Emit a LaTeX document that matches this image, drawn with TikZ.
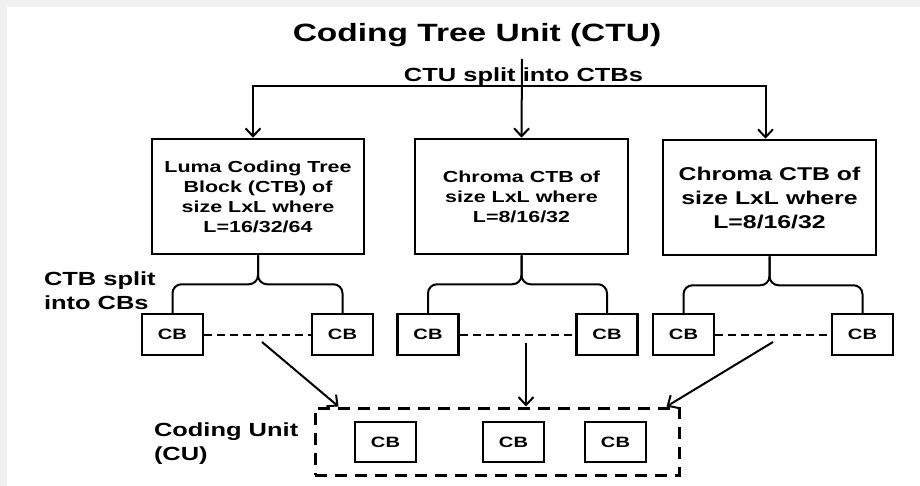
\documentclass[tikz,border=0pt]{standalone}
\usepackage{fontspec}
\setmainfont[FakeStretch=1.34]{Liberation Sans}
\usetikzlibrary{arrows.meta}

\begin{document}
\begin{tikzpicture}[x=1pt,y=-1pt,line width=2pt,>={Straight Barb[length=8pt,width=15pt]}]

% Stili per blocchi ed etichette
\tikzset{
  blocco/.style={draw, line width=2.5pt, minimum width=212pt, minimum height=115pt, inner sep=0pt, align=center},
  cb/.style={draw, line width=2.5pt, minimum width=61pt, minimum height=41pt, inner sep=0pt, font=\bfseries\fontsize{15}{18}\selectfont},
  etichetta/.style={anchor=north west, inner sep=0pt, align=left, font=\bfseries\fontsize{19}{24}\selectfont},
  tratteggio/.style={dash pattern=on 8pt off 5pt}
}

% Sfondo
\useasboundingbox (0,0) rectangle (920,486);
\fill[white] (0,0) rectangle (920,486);
\fill[gray!12] (0,0) rectangle (920,7);
\fill[gray!12] (0,0) rectangle (7,486);

% --- Parte superiore: CTU ---
\node[anchor=base, inner sep=0pt, font=\bfseries\fontsize{25}{30}\selectfont] (titolo) at (477,42) {Coding Tree Unit (CTU)};
\node[anchor=base, inner sep=0pt, font=\bfseries\fontsize{19}{22}\selectfont] (split) at (523.5,82) {CTU split into CTBs};

% Blocchi CTB
\node[blocco, font=\bfseries\fontsize{16}{20}\selectfont] (luma) at (258,196.5) {Luma Coding Tree\\Block (CTB) of\\size LxL where\\L=16/32/64};
\node[blocco, minimum width=213pt, font=\bfseries\fontsize{16}{20}\selectfont] (chromaA) at (521.5,196.5) {Chroma CTB of\\size LxL where\\L=8/16/32};
\node[blocco, minimum width=213pt, font=\bfseries\fontsize{18.5}{24}\selectfont] (chromaB) at (769.5,197.5) {Chroma CTB of\\size LxL where\\L=8/16/32};

% Frecce dalla CTU
\coordinate (ctu) at (522,59);
\coordinate (ramo) at (522,86);
\draw[->] (ctu) -- (chromaA.north);
\draw[->] (ramo) -| ([xshift=-5pt]luma.north);
\draw[->] (ramo) -| ([xshift=-4pt]chromaB.north);

% --- Parte centrale: CB ---
\node[etichetta] (ctbsplit) at (43,271) {CTB split\\into CBs};

\node[cb] (cb1a) at (172.5,334.5) {CB};
\node[cb] (cb1b) at (342.5,334.5) {CB};
\node[cb] (cb2a) at (428,334.5) {CB};
\node[cb] (cb2b) at (607,334.5) {CB};
\node[cb] (cb3a) at (683.5,334.5) {CB};
\node[cb] (cb3b) at (862.5,334.5) {CB};

% Graffe e tratteggi
\foreach \b/\l/\r in {luma/cb1a/cb1b, chromaA/cb2a/cb2b, chromaB/cb3a/cb3b} {
  \draw[rounded corners=9pt] (\l.north) |- ([yshift=-29pt]\b.south) -- (\b.south);
  \draw[rounded corners=9pt] (\r.north) |- ([yshift=-29pt]\b.south) -- (\b.south);
  \draw[tratteggio] (\l) -- (\r);
}

% --- Parte inferiore: CU ---
\node[etichetta] (cutesto) at (153,422) {Coding Unit\\(CU)};
\node[draw, line width=3pt, dash pattern=on 12pt off 8pt, minimum width=364pt, minimum height=67pt] (cu) at (497,441.5) {};

\node[cb, minimum height=40pt] (cu1) at (385.5,442) {CB};
\node[cb, minimum height=40pt] (cu2) at (513.5,442) {CB};
\node[cb, minimum height=40pt] (cu3) at (615.5,442) {CB};

% Frecce verso la CU
\coordinate (p1) at (262,342);
\coordinate (p2) at (526,343);
\coordinate (p3) at (773,342);
\draw[->] (p1) -- ([xshift=25pt]cu.north west);
\draw[->] (p2) -- (p2 |- cu.north);
\draw[->] (p3) -- ([xshift=-14pt]cu.north east);

\end{tikzpicture}
\end{document}
